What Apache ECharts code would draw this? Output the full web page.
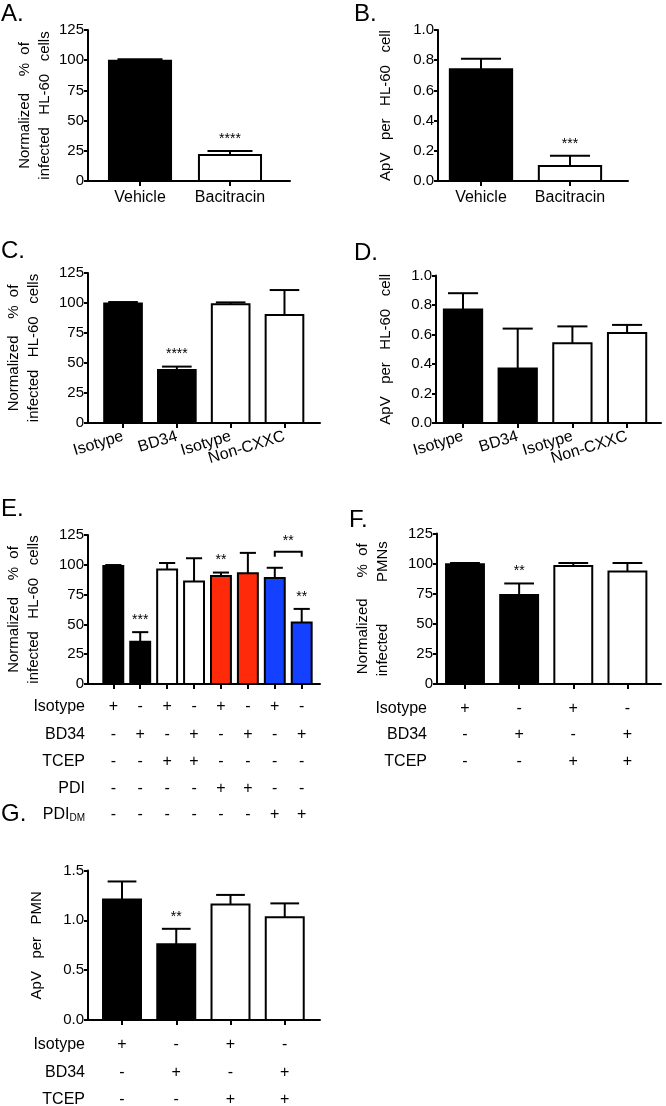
<!DOCTYPE html>
<html>
<head>
<meta charset="utf-8">
<script src="https://cdn.jsdelivr.net/npm/echarts@6/dist/echarts.min.js"></script>
<style>
html,body{margin:0;padding:0;background:#fff;}
#chart{width:666px;height:1106px;}
</style>
</head>
<body>
<div id="chart"></div>
<script>
// ---------------- DATA ----------------
const catsAB = ['Vehicle', 'Bacitracin'];
const valsA = [99.5, 21.5];
const errA = [1.2, 3.3];
const starsA = ['', '****'];

const valsB = [0.74, 0.10];
const errB = [0.07, 0.067];
const starsB = ['', '***'];

const catsCD = ['Isotype', 'BD34', 'Isotype', 'Non-CXXC'];
const valsC = [99.5, 44.2, 99, 90];
const errC = [1.3, 2.8, 1.5, 20.8];
const starsC = ['', '****', '', ''];

const valsD = [0.77, 0.37, 0.54, 0.61];
const errD = [0.11, 0.27, 0.115, 0.055];
const starsD = ['', '', '', ''];

const valsE = [99, 35.5, 96, 86, 90.5, 93, 89, 51.5];
const errE = [0.8, 8, 5.5, 19.5, 3, 17, 8.5, 11.5];
const starsE = ['', '***', '', '', '**', '', '', '**'];
const bracketE = [[7, 8, 111, '**']];
const rowLabelsE = ['Isotype', 'BD34', 'TCEP', 'PDI', 'PDI{sub|DM}'];
const rowsE = [
  ['+', '-', '+', '-', '+', '-', '+', '-'],
  ['-', '+', '-', '+', '-', '+', '-', '+'],
  ['-', '-', '+', '+', '-', '-', '-', '-'],
  ['-', '-', '-', '-', '+', '+', '-', '-'],
  ['-', '-', '-', '-', '-', '-', '+', '+']
];

const valsF = [99.5, 74, 98, 93.5];
const errF = [1, 9.5, 2.5, 7];
const starsF = ['', '**', '', ''];

const valsG = [1.21, 0.76, 1.16, 1.03];
const errG = [0.18, 0.155, 0.095, 0.14];
const starsG = ['', '**', '', ''];

const rowLabelsFG = ['Isotype', 'BD34', 'TCEP'];
const rowsFG = [
  ['+', '-', '+', '-'],
  ['-', '+', '-', '+'],
  ['-', '-', '+', '+']
];

// ---------------- STYLE / LAYOUT ----------------
const FONT = 'Liberation Sans, Arial, Helvetica, sans-serif';
const BLACK = '#000000', WHITE = '#ffffff', RED = '#ff2a0a', BLUE = '#1440ff';

const panels = [
  {letter:'A.', lx:1, ly:2, grid:{left:88, top:30, width:202, height:151}, xmin:0.422, xmax:2.667,
   vals:valsA, err:errA, stars:starsA, fills:[BLACK, WHITE], ymax:125, yint:25, dec:0,
   yname:'Normalized    %  of\ninfected   HL-60   cells', nameGap:33, labels:catsAB, rotate:0, lmargin:9,
   barFrac:0.69, capFrac:0.5},
  {letter:'B.', lx:354, ly:2, grid:{left:438, top:30, width:190, height:151}, xmin:0.517, xmax:2.652,
   vals:valsB, err:errB, stars:starsB, fills:[BLACK, WHITE], ymax:1, yint:0.2, dec:1,
   yname:'ApV   per   HL-60   cell', nameGap:42, labels:catsAB, rotate:0, lmargin:9,
   barFrac:0.7, capFrac:0.45},
  {letter:'C.', lx:1, ly:239, grid:{left:88, top:273, width:232, height:150}, xmin:0.349, xmax:4.66,
   vals:valsC, err:errC, stars:starsC, fills:[BLACK, BLACK, WHITE, WHITE], ymax:125, yint:25, dec:0,
   yname:'Normalized    %  of\ninfected   HL-60   cells', nameGap:44, labels:catsCD, rotate:17, lmargin:13,
   barFrac:0.7, capFrac:0.55},
  {letter:'D.', lx:354, ly:241, grid:{left:436, top:275.5, width:225, height:147.5}, xmin:0.506, xmax:4.62,
   vals:valsD, err:errD, stars:starsD, fills:[BLACK, BLACK, WHITE, WHITE], ymax:1, yint:0.2, dec:1,
   yname:'ApV   per   HL-60   cell', nameGap:40, labels:catsCD, rotate:17, lmargin:13,
   barFrac:0.7, capFrac:0.55},
  {letter:'E.', lx:1, ly:497, grid:{left:88, top:535, width:232, height:149}, xmin:0.06, xmax:8.68,
   vals:valsE, err:errE, stars:starsE, fills:[BLACK, BLACK, WHITE, WHITE, RED, RED, BLUE, BLUE], ymax:125, yint:25, dec:0,
   yname:'Normalized    %  of\ninfected   HL-60   cells', nameGap:44, labels:null,
   rowLabels:rowLabelsE, rows:rowsE, rowOffsets:[23, 50.5, 77.5, 104.3, 131], rowGap:3,
   barFrac:0.74, capFrac:0.6, bracket:bracketE},
  {letter:'F.', lx:349, ly:508, grid:{left:437, top:533.5, width:224, height:150.5}, xmin:0.483, xmax:4.62,
   vals:valsF, err:errF, stars:starsF, fills:[BLACK, BLACK, WHITE, WHITE], ymax:125, yint:25, dec:0,
   yname:'Normalized     %  of\ninfected          PMNs', nameGap:44, labels:null,
   rowLabels:rowLabelsFG, rows:rowsFG, rowOffsets:[24.3, 51, 77.7], rowGap:10,
   barFrac:0.7, capFrac:0.55},
  {letter:'G.', lx:1, ly:802, grid:{left:88, top:870.5, width:232, height:149.5}, xmin:0.373, xmax:4.65,
   vals:valsG, err:errG, stars:starsG, fills:[BLACK, BLACK, WHITE, WHITE], ymax:1.5, yint:0.5, dec:1,
   yname:'ApV   per   PMN', nameGap:41, labels:null,
   rowLabels:rowLabelsFG, rows:rowsFG, rowOffsets:[25, 52.7, 80], rowGap:3,
   barFrac:0.7, capFrac:0.53}
];

const axisLineStyle = {color:'#000', width:2};
const grids = [], xAxes = [], yAxes = [], series = [], graphics = [];

function barRenderer(p) {
  return function (params, api) {
    const i = params.dataIndex;
    const x = api.value(0), v = api.value(1), e = api.value(2);
    const p0 = api.coord([x, 0]);
    const p1 = api.coord([x, v]);
    const p2 = api.coord([x, v + e]);
    const unit = api.size([1, 0])[0];
    const bw = unit * p.barFrac, cw = unit * p.capFrac;
    const ch = [
      {type:'line', shape:{x1:p1[0], y1:p1[1], x2:p2[0], y2:p2[1]}, style:{stroke:'#000', lineWidth:2}},
      {type:'line', shape:{x1:p2[0] - cw / 2, y1:p2[1], x2:p2[0] + cw / 2, y2:p2[1]}, style:{stroke:'#000', lineWidth:2}},
      {type:'rect', shape:{x:p0[0] - bw / 2, y:p1[1], width:bw, height:p0[1] - p1[1]},
       style:{fill:p.fills[i], stroke:'#000', lineWidth:2}}
    ];
    if (p.stars[i]) {
      ch.push({type:'text', style:{text:p.stars[i], x:p2[0], y:p2[1] - 12, align:'center', verticalAlign:'middle',
        font:'14px ' + FONT, fill:'#000'}});
    }
    return {type:'group', children:ch};
  };
}

function bracketRenderer(params, api) {
  const a = api.coord([api.value(0), api.value(2)]);
  const b = api.coord([api.value(1), api.value(2)]);
  const leg = 5;
  const label = bracketE[params.dataIndex][3];
  return {type:'group', children:[
    {type:'polyline', shape:{points:[[a[0], a[1] + leg], [a[0], a[1]], [b[0], b[1]], [b[0], b[1] + leg]]},
     style:{stroke:'#000', lineWidth:2, fill:null}},
    {type:'text', style:{text:label, x:(a[0] + b[0]) / 2, y:a[1] - 11, align:'center', verticalAlign:'middle',
      font:'14px ' + FONT, fill:'#000'}}
  ]};
}

panels.forEach((p, gi) => {
  grids.push(Object.assign({outerBoundsMode:'none', containLabel:false}, p.grid));
  const xs = p.vals.map((_, i) => i + 1);
  // blank guard labels at the axis ends so that no real label is treated as the min/max label
  const labelXs = [p.xmin + 0.02].concat(xs, [p.xmax - 0.02]);
  const mainX = xAxes.length;
  xAxes.push({
    type:'value', gridIndex:gi, min:p.xmin, max:p.xmax, position:'bottom',
    axisLine:{show:true, onZero:false, lineStyle:axisLineStyle},
    axisTick:{show:true, length:5, customValues:xs, lineStyle:axisLineStyle},
    splitLine:{show:false},
    axisLabel:p.labels ? {show:true, customValues:labelXs, rotate:p.rotate, margin:p.lmargin, fontSize:16,
      hideOverlap:false,
      fontFamily:FONT, color:'#000',
      formatter:v => (Math.abs(v - Math.round(v)) < 1e-6 ? (p.labels[Math.round(v) - 1] || '') : '')} : {show:false}
  });
  if (p.rows) {
    p.rows.forEach((row, ri) => {
      xAxes.push({
        type:'value', gridIndex:gi, min:p.xmin, max:p.xmax, position:'bottom', offset:p.rowOffsets[ri],
        axisLine:{show:false, onZero:false}, axisTick:{show:false}, splitLine:{show:false},
        axisLabel:{show:true, customValues:labelXs, margin:0, verticalAlign:'middle', fontSize:16, fontFamily:FONT,
          hideOverlap:false,
          color:'#000',
          formatter:v => (Math.abs(v - Math.round(v)) < 1e-6 ? (row[Math.round(v) - 1] || '') : '')},
        name:p.rowLabels[ri], nameLocation:'start', nameGap:p.rowGap,
        nameTextStyle:{fontSize:16, fontFamily:FONT, color:'#000', align:'right', verticalAlign:'middle',
          rich:{sub:{fontSize:10, fontFamily:FONT, color:'#000', padding:[7, 0, 0, 0]}}}
      });
    });
  }
  yAxes.push({
    type:'value', gridIndex:gi, min:0, max:p.ymax, interval:p.yint,
    axisLine:{show:true, onZero:false, lineStyle:axisLineStyle},
    axisTick:{show:true, length:4, lineStyle:axisLineStyle},
    splitLine:{show:false},
    axisLabel:{fontSize:15, fontFamily:FONT, color:'#000', margin:4, showMinLabel:true, showMaxLabel:true,
      hideOverlap:false, formatter:v => v.toFixed(p.dec)},
    name:p.yname, nameLocation:'middle', nameGap:p.nameGap,
    nameTextStyle:{fontSize:15, fontFamily:FONT, color:'#000', lineHeight:20}
  });
  series.push({
    type:'custom', xAxisIndex:mainX, yAxisIndex:gi, renderItem:barRenderer(p), clip:false,
    data:p.vals.map((v, i) => [i + 1, v, p.err[i]])
  });
  if (p.bracket) {
    series.push({
      type:'custom', xAxisIndex:mainX, yAxisIndex:gi, renderItem:bracketRenderer, clip:false,
      data:p.bracket.map(b => [b[0], b[1], b[2]])
    });
  }
  graphics.push({type:'text', left:p.lx, top:p.ly, style:{text:p.letter, font:'24px ' + FONT, fill:'#000'}});
});

const chart = echarts.init(document.getElementById('chart'), null, {renderer:'canvas'});
chart.setOption({
  backgroundColor:'#fff',
  animation:false,
  textStyle:{fontFamily:FONT},
  grid:grids, xAxis:xAxes, yAxis:yAxes, series:series, graphic:graphics
});
</script>
</body>
</html>
